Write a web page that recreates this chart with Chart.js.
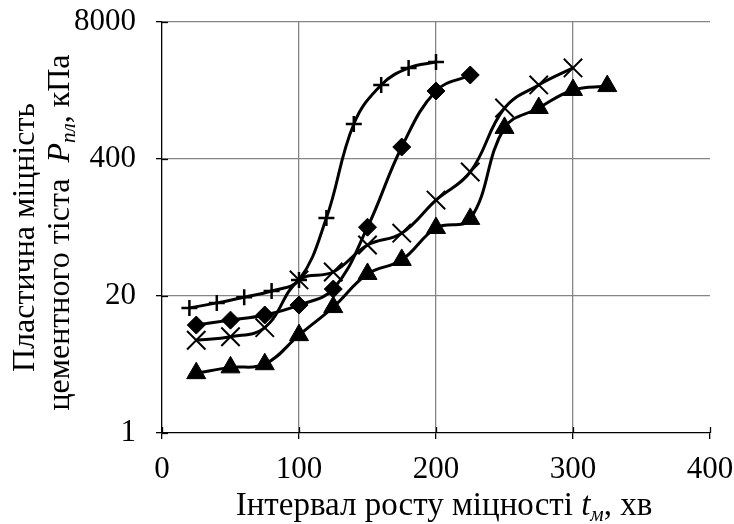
<!DOCTYPE html>
<html>
<head>
<meta charset="utf-8">
<script src="https://cdn.jsdelivr.net/npm/chart.js@4"></script>
<style>
  html, body { margin: 0; padding: 0; background: #fff; }
  #wrap { width: 734px; height: 524px; position: relative; }
</style>
</head>
<body>
<div id="wrap"><canvas id="c" width="734" height="524"></canvas></div>
<script>
// ---- data ----
const xPlus = [20, 40, 60, 80, 100, 120, 140, 160, 180, 200];
const yPlus = [15.4, 17.2, 19.5, 22.3, 28.4, 110, 860, 2020, 2930, 3340];

const xDiamond = [25, 50, 75, 100, 125, 150, 175, 200, 225];
const yDiamond = [10.6, 11.8, 13.2, 16.4, 23.3, 90, 520, 1770, 2510];

const xCross = [25, 50, 75, 100, 125, 150, 175, 200, 225, 250, 275, 300];
const yCross = [7.6, 8.2, 10.0, 28.4, 33.8, 61, 79, 163, 301, 1220, 2020, 2930];

const xTri = [25, 50, 75, 100, 125, 150, 175, 200, 225, 250, 275, 300, 325];
const yTri = [3.7, 4.2, 4.5, 8.5, 15.7, 32.4, 44, 88.5, 108, 790, 1220, 1810, 1970];

const yTickValues = [1, 20, 400, 8000];
const xTickValues = [0, 100, 200, 300, 400];

const xTitleRuns = [
  { text: 'Інтервал росту міцності ', style: '' },
  { text: 't', style: 'italic ' },
  { text: 'м', style: 'italic ', sub: true },
  { text: ', хв', style: '' }
];
const yTitleLine1 = [{ text: 'Пластична міцність', style: '' }];
const yTitleLine2 = [
  { text: 'цементного тіста  ', style: '' },
  { text: 'P', style: 'italic ' },
  { text: 'пл', style: 'italic ', sub: true },
  { text: ', кПа', style: '' }
];

const FONT = "'Liberation Serif', 'Times New Roman', serif";

function pts(xs, ys) { return xs.map((x, i) => ({ x: x, y: ys[i] })); }

function runsWidth(ctx, runs, size, subSize) {
  let w = 0;
  runs.forEach(r => {
    ctx.font = r.style + (r.sub ? subSize : size) + 'px ' + FONT;
    w += ctx.measureText(r.text).width;
  });
  return w;
}
function drawRuns(ctx, runs, cx, y, size, subSize, subDy) {
  const total = runsWidth(ctx, runs, size, subSize);
  let cur = cx - total / 2;
  ctx.textAlign = 'left';
  ctx.textBaseline = 'alphabetic';
  runs.forEach(r => {
    ctx.font = r.style + (r.sub ? subSize : size) + 'px ' + FONT;
    ctx.fillText(r.text, cur, y + (r.sub ? subDy : 0));
    cur += ctx.measureText(r.text).width;
  });
}

const titlePlugin = {
  id: 'titles',
  afterDraw(chart) {
    const ctx = chart.ctx;
    const xs = chart.scales.x, ys = chart.scales.y;
    ctx.save();
    ctx.fillStyle = '#000';
    // inner half of tick marks
    ctx.strokeStyle = '#000';
    ctx.lineWidth = 1.3;
    const area = chart.chartArea;
    xTickValues.forEach(v => {
      const px = Math.round(xs.getPixelForValue(v)) + 0.5;
      ctx.beginPath(); ctx.moveTo(px, area.bottom); ctx.lineTo(px, area.bottom - 6); ctx.stroke();
    });
    yTickValues.forEach(v => {
      const py = Math.round(ys.getPixelForValue(v)) + 0.5;
      ctx.beginPath(); ctx.moveTo(area.left, py); ctx.lineTo(area.left + 6, py); ctx.stroke();
    });
    // x title
    drawRuns(ctx, xTitleRuns, (area.left + area.right) / 2 + 8, 515, 33, 21, 6);
    // y title
    const cy = (area.top + area.bottom) / 2;
    ctx.save();
    ctx.translate(34, cy + 10);
    ctx.rotate(-Math.PI / 2);
    drawRuns(ctx, yTitleLine1, 0, 0, 32, 21, 6);
    ctx.restore();
    ctx.save();
    ctx.translate(69, cy + 5);
    ctx.rotate(-Math.PI / 2);
    drawRuns(ctx, yTitleLine2, 0, 0, 32, 21, 6);
    ctx.restore();
    ctx.restore();
  }
};

function ds(label, xsArr, ysArr, style, radius, bw) {
  return {
    label: label,
    data: pts(xsArr, ysArr),
    borderColor: '#000',
    backgroundColor: '#000',
    borderWidth: 3,
    tension: 0.4,
    pointStyle: style,
    pointRadius: radius,
    pointHoverRadius: radius,
    pointBorderWidth: bw,
    pointBorderColor: '#000',
    pointBackgroundColor: '#000',
    fill: false
  };
}

new Chart(document.getElementById('c'), {
  type: 'line',
  data: {
    datasets: [
      ds('plus', xPlus, yPlus, 'cross', 8, 2.5),
      ds('diamond', xDiamond, yDiamond, 'rectRot', 9, 1),
      ds('x', xCross, yCross, 'crossRot', 13, 2),
      ds('triangle', xTri, yTri, 'triangle', 11, 1)
    ]
  },
  options: {
    responsive: false,
    animation: false,
    devicePixelRatio: 1,
    layout: { padding: { left: 0, right: 24, top: 22, bottom: 0 } },
    plugins: { legend: { display: false }, tooltip: { enabled: false } },
    scales: {
      x: {
        type: 'linear',
        min: 0, max: 400,
        afterBuildTicks: s => { s.ticks = xTickValues.map(v => ({ value: v })); },
        afterFit: s => { s.height = 91; s.paddingLeft = 0; s.paddingRight = 0; },
        ticks: { font: { family: FONT, size: 31 }, color: '#000', padding: 12, maxRotation: 0 },
        grid: {
          color: c => (c.tick && (c.tick.value === 400 || c.tick.value === 0)) ? 'rgba(0,0,0,0)' : '#858585',
          lineWidth: 1.3,
          tickColor: '#000',
          tickLength: 6
        },
        border: { color: '#000', width: 1.3 }
      },
      y: {
        type: 'logarithmic',
        min: 1, max: 8000,
        afterBuildTicks: s => { s.ticks = yTickValues.map(v => ({ value: v })); },
        afterFit: s => { s.width = 162; s.paddingTop = 0; s.paddingBottom = 0; },
        ticks: { font: { family: FONT, size: 31 }, color: '#000', padding: 20, callback: v => String(v) },
        grid: {
          color: c => (c.tick && c.tick.value === 1) ? 'rgba(0,0,0,0)' : '#858585',
          lineWidth: 1.3,
          tickColor: '#000',
          tickLength: 6
        },
        border: { color: '#000', width: 1.3 }
      }
    }
  },
  plugins: [titlePlugin]
});
</script>
</body>
</html>
